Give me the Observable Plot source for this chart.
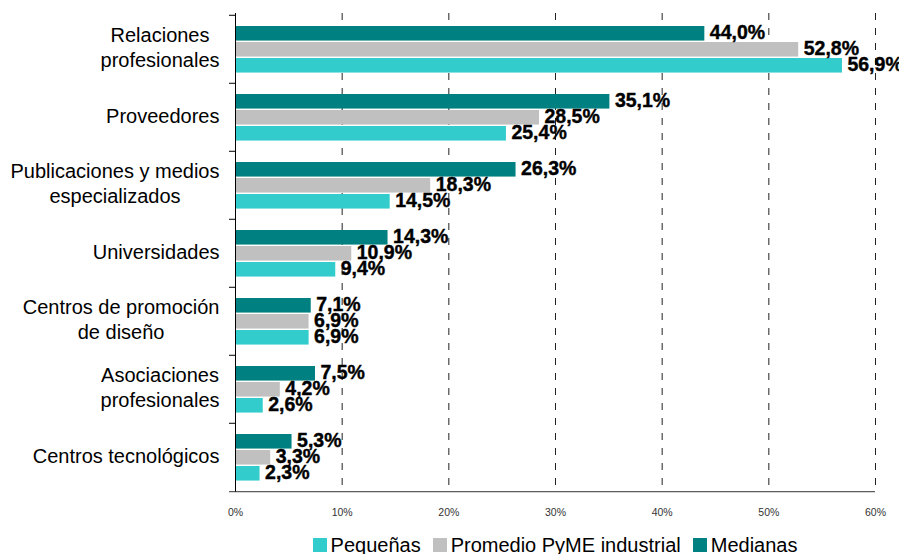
<!DOCTYPE html>
<html><head><meta charset="utf-8">
<script src="https://cdn.jsdelivr.net/npm/d3@7"></script>
<script src="https://cdn.jsdelivr.net/npm/@observablehq/plot@0.6"></script>
<style>
body{margin:0;background:#fff;font-family:"Liberation Sans",Arial,sans-serif;}
#legend{display:flex;justify-content:center;align-items:center;padding-left:235px;padding-right:24px;height:34px;font-size:20px;color:#000;}
.item{display:flex;align-items:center;margin:0 6px;}
.sw{width:14px;height:14px;margin-right:4px;}
</style></head><body><div id="chart"></div><div id="legend"></div>
<script>
const categories = ["Relaciones\nprofesionales","Proveedores","Publicaciones y medios\nespecializados","Universidades","Centros de promoción\nde diseño","Asociaciones\nprofesionales","Centros tecnológicos"];
const medianas = [44.0, 35.1, 26.3, 14.3, 7.1, 7.5, 5.3];
const promedio = [52.8, 28.5, 18.3, 10.9, 6.9, 4.2, 3.3];
const pequenas = [56.9, 25.4, 14.5, 9.4, 6.9, 2.6, 2.3];
const xTicks = [0, 10, 20, 30, 40, 50, 60];
const seriesNames = ["Medianas", "Promedio PyME industrial", "Pequeñas"];
const legendOrder = ["Pequeñas", "Promedio PyME industrial", "Medianas"];
const colors = {"Medianas":"#008080","Promedio PyME industrial":"#c0c0c0","Pequeñas":"#33cccc"};

const W=899,H=528,mL=235,mR=24,mT=13,mB=36;
const bh=(H-mT-mB)/categories.length;
const ppu=(W-mL-mR)/60;
const fmt = v => v.toFixed(1).replace(".", ",") + "%";
const catFont = 20;
const ctx=document.createElement("canvas").getContext("2d");
ctx.font=catFont+"px 'Liberation Sans'";
const blockWidth = c => Math.max(...c.split("\n").map(s=>ctx.measureText(s).width));

const specs = [
  {name:"Medianas", values:medianas, top:11, dy:-16.5},
  {name:"Promedio PyME industrial", values:promedio, top:27, dy:-0.5},
  {name:"Pequeñas", values:pequenas, top:43, dy:15.5}
];

const marks = [
  Plot.ruleX(xTicks.filter(t=>t>0), {stroke:"#222", strokeDasharray:"7,8"})
];
for (const s of specs) {
  const rows = categories.map((c,i)=>({category:c, value:s.values[i]}));
  marks.push(Plot.barX(rows, {y:"category", x:"value", fill:colors[s.name], insetTop:s.top, insetBottom:bh-s.top-15}));
}
for (const s of specs) {
  const rows = categories.map((c,i)=>({category:c, value:s.values[i]}));
  marks.push(Plot.text(rows, {y:"category", x:"value", text:d=>fmt(d.value), dx:5, dy:s.dy, textAnchor:"start", fontWeight:"bold", fontSize:19.5, fill:"#000", stroke:"#000", strokeWidth:0.4}));
}
marks.push(Plot.ruleX([0], {stroke:"#000"}));
marks.push(Plot.ruleY(categories, {y:d=>d, dy:-bh/2, x1:-6/ppu, x2:0, stroke:"#000"}));
marks.push(Plot.ruleY(categories.slice(-1), {y:d=>d, dy:bh/2, x1:-6/ppu, x2:60, stroke:"#333"}));
for (const c of categories) {
  marks.push(Plot.text([c], {y:d=>d, frameAnchor:"left", textAnchor:"middle", lineAnchor:"middle", dx:-(16+blockWidth(c)/2), dy:-3, fontSize:catFont, lineHeight:1.25, fill:"#000"}));
}
marks.push(Plot.axisX(xTicks, {tickFormat:d=>d+"%", tickSize:0, tickPadding:16, fontSize:10.5, fill:"#333", label:null}));

const chart = Plot.plot({
  width:W, height:H, marginLeft:mL, marginRight:mR, marginTop:mT, marginBottom:mB,
  style:{fontFamily:"'Liberation Sans', Arial, sans-serif", background:"#fff"},
  x:{domain:[0,60]},
  y:{domain:categories, padding:0, axis:null},
  marks
});
document.getElementById("chart").appendChild(chart);

const lg = document.getElementById("legend");
for (const n of legendOrder) {
  const it = document.createElement("div"); it.className="item";
  const sw = document.createElement("div"); sw.className="sw"; sw.style.background=colors[n];
  const tx = document.createElement("span"); tx.textContent=n;
  it.appendChild(sw); it.appendChild(tx); lg.appendChild(it);
}
</script></body></html>
